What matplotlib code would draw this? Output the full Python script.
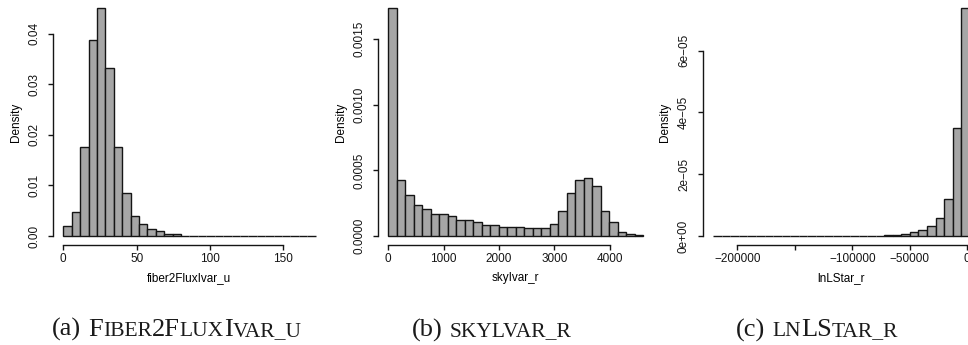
import numpy as np
import matplotlib
matplotlib.use('Agg')
import matplotlib.pyplot as plt

plt.rcParams['font.family'] = ['Liberation Sans', 'DejaVu Sans']

# histogram densities (30 equal bins per panel)
fiber_lo, fiber_hi = 0, 172
fiber_density = [0.0020, 0.0048, 0.0177, 0.0387, 0.0451, 0.0332, 0.0177, 0.0086,
                 0.0040, 0.0024, 0.0013, 0.0009, 0.0004, 0.0003] + [0.0] * 16

sky_lo, sky_hi = 0, 4600
sky_density = [0.001736, 0.000427, 0.000313, 0.000236, 0.000208, 0.000167, 0.000167,
               0.000152, 0.000122, 0.000122, 0.000106, 0.000086, 0.000086, 0.000072,
               0.000072, 0.000072, 0.000057, 0.000057, 0.000057, 0.000091, 0.000193,
               0.000325, 0.000427, 0.000442, 0.000384, 0.000193, 0.000107, 0.000031,
               0.000015, 0.000005]

lnl_lo, lnl_hi = -221000, 2230
lnl_density = [0.0] * 20 + [0.3e-6, 0.3e-6, 0.6e-6, 1.2e-6, 1.9e-6, 3.2e-6,
                            5.7e-6, 1.2e-5, 3.51e-5, 7.38e-5]

fiber_xticks = [0, 50, 100, 150]
fiber_xlabels = ['0', '50', '100', '150']
fiber_yticks = [0.0, 0.01, 0.02, 0.03, 0.04]
fiber_ylabels = ['0.00', '0.01', '0.02', '0.03', '0.04']

sky_xticks = [0, 1000, 2000, 3000, 4000]
sky_xlabels = ['0', '1000', '2000', '3000', '4000']
sky_yticks = [0.0, 0.0005, 0.0010, 0.0015]
sky_ylabels = ['0.0000', '0.0005', '0.0010', '0.0015']

lnl_xticks = [-200000, -150000, -100000, -50000, 0]
lnl_xlabels = ['\u2212200000', '', '\u2212100000', '\u221250000', '0']
lnl_yticks = [0.0, 2e-5, 4e-5, 6e-5]
lnl_ylabels = ['0e+00', '2e\u221205', '4e\u221205', '6e\u221205']

W, H = 968, 345
fig = plt.figure(figsize=(W / 100, H / 100), dpi=100)

AX_TOP, AX_BOT = -1.1, 245.1   # pixels from top


def hist_panel(left_px, width_px, lo, hi, dens, xt, xl, yt, yl, xlabel):
    ax = fig.add_axes([left_px / W, 1 - AX_BOT / H, width_px / W, (AX_BOT - AX_TOP) / H])
    edges = np.linspace(lo, hi, len(dens) + 1)
    ax.bar(edges[:-1], dens, width=np.diff(edges), align='edge',
           color='#a6a6a6', edgecolor='#151515', linewidth=1.0)
    pad = 0.04 * (hi - lo)
    ax.set_xlim(lo - pad, hi + pad)
    ymax = max(dens)
    ax.set_ylim(-0.04 * ymax, 1.04 * ymax)

    for s in ['top', 'right']:
        ax.spines[s].set_visible(False)
    ax.spines['left'].set_bounds(yt[0], yt[-1])
    ax.spines['bottom'].set_bounds(xt[0], xt[-1])
    for s in ['left', 'bottom']:
        ax.spines[s].set_linewidth(1.0)
        ax.spines[s].set_color('#151515')

    ax.set_xticks(xt)
    ax.set_xticklabels(xl)
    ax.set_yticks(yt)
    ax.set_yticklabels(yl, rotation=90, va='center')
    ax.tick_params(direction='out', length=3.4, width=1.0, labelsize=8.5,
                   colors='#151515')
    ax.tick_params(axis='x', pad=2)
    ax.tick_params(axis='y', pad=6)

    ax.set_xlabel(xlabel, fontsize=8.5, va='center')
    ax.xaxis.set_label_coords(0.5, (AX_BOT - 278) / (AX_BOT - AX_TOP))
    ax.set_ylabel('Density', fontsize=8.5, va='center')
    ax.yaxis.set_label_coords(-37.5 / width_px, 0.5)
    ax.patch.set_alpha(0)
    return ax


hist_panel(53.2, 272.5, fiber_lo, fiber_hi, fiber_density,
           fiber_xticks, fiber_xlabels, fiber_yticks, fiber_ylabels, 'fiber2FluxIvar_u')
hist_panel(378.1, 275.2, sky_lo, sky_hi, sky_density,
           sky_xticks, sky_xlabels, sky_yticks, sky_ylabels, 'skyIvar_r')
hist_panel(703.0, 277.0, lnl_lo, lnl_hi, lnl_density,
           lnl_xticks, lnl_xlabels, lnl_yticks, lnl_ylabels, 'lnLStar_r')

# captions in small caps: pieces of (text, size); a number is a gap in pixels
BIG, SMALL = 19, 15.5
renderer = fig.canvas.get_renderer()


def caption(x_px, base_px, parts):
    x = x_px
    for p in parts:
        if not isinstance(p, tuple):
            x += p
            continue
        txt, size = p
        t = fig.text(x / W, 1 - base_px / H, txt, fontsize=size,
                     family='Liberation Serif', va='baseline', ha='left', color='#1a1a1a')
        x += t.get_window_extent(renderer).width


caption(52, 336, [('(a)', BIG), 7, ('F', BIG), ('IBER', SMALL), ('2F', BIG),
                  ('LUX', SMALL), ('I', BIG), ('VAR_U', SMALL)])
caption(412, 336.5, [('(b)', BIG), 7, ('SKYLVAR_R', SMALL)])
caption(736, 336.5, [('(c)', BIG), 7, ('LN', SMALL), ('LS', BIG), ('TAR_R', SMALL)])

fig.savefig('out.png', dpi=100)
